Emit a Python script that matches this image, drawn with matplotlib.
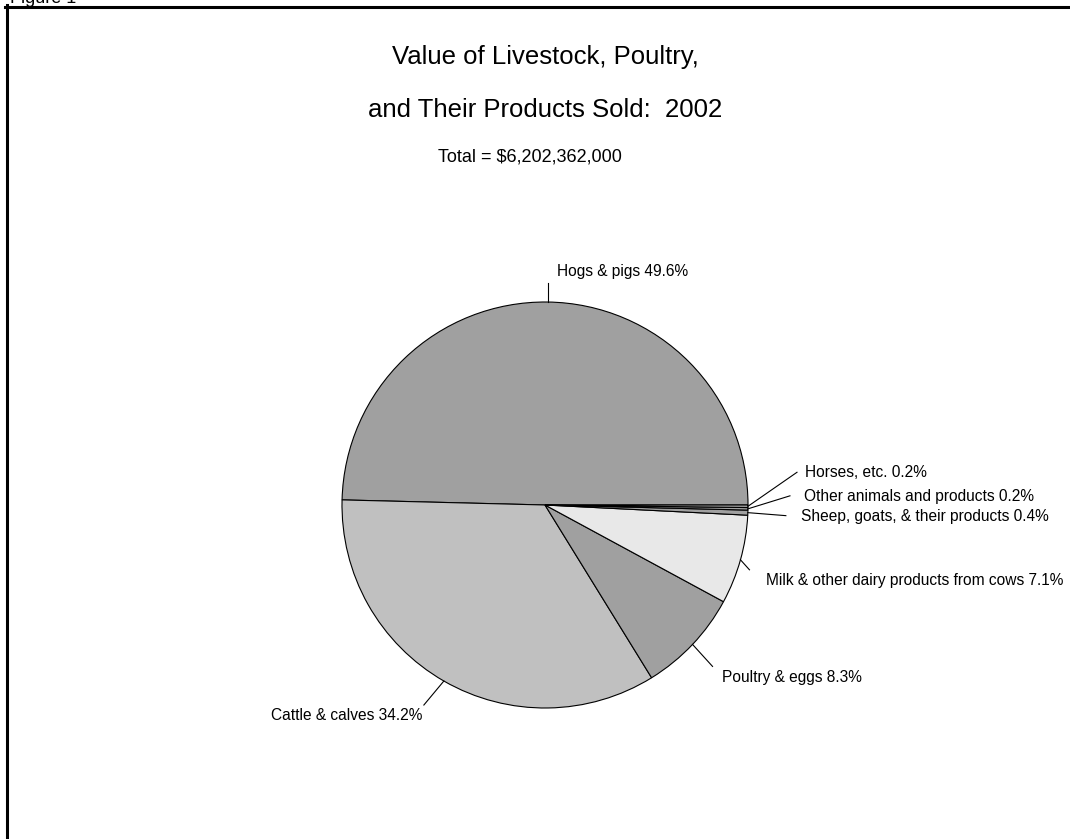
import numpy as np
import matplotlib
matplotlib.use("Agg")
import matplotlib.pyplot as plt
from matplotlib.lines import Line2D

plt.rcParams["font.family"] = ["Liberation Sans", "DejaVu Sans"]

# data (percent of total value sold)
categories = [
    "Hogs & pigs",
    "Cattle & calves",
    "Poultry & eggs",
    "Milk & other dairy products from cows",
    "Sheep, goats, & their products",
    "Other animals and products",
    "Horses, etc.",
]
shares = [49.6, 34.2, 8.3, 7.1, 0.4, 0.2, 0.2]
colors = ["#a0a0a0", "#c0c0c0", "#a0a0a0", "#e8e8e8", "#a0a0a0", "#a0a0a0", "#a0a0a0"]

title_lines = ["Value of Livestock, Poultry,", "and Their Products Sold:  2002"]
subtitle = "Total = $6,202,362,000"

W, H = 1070, 839
fig = plt.figure(figsize=(W / 100, H / 100), dpi=100)
ax = fig.add_axes([0, 0, 1, 1])
ax.axis("off")

cx, cy, r = 545, H - 505, 203
wedges, _ = ax.pie(shares, colors=colors, startangle=0, counterclock=True,
                   center=(cx, cy), radius=r,
                   wedgeprops=dict(edgecolor="black", linewidth=0.8))
ax.set_xlim(0, W)
ax.set_ylim(0, H)
ax.set_aspect("auto")

# leader line offset (dx, dy) and text offset from line end, pixels (y down)
leaders = [
    ((0, -19), (9, -12), "left"),
    ((-20, 24), (-1, 10), "right"),
    ((20, 22), (9, 11), "left"),
    ((9, 10), (17, 11), "left"),
    ((38, 3), (15, 1), "left"),
    ((42, -13), (14, 1), "left"),
    ((49, -34), (8, 0), "left"),
]

for w, name, pct, (ld, td, ha) in zip(wedges, categories, shares, leaders):
    mid = np.deg2rad((w.theta1 + w.theta2) / 2)
    ex, ey = cx + r * np.cos(mid), cy + r * np.sin(mid)
    lx, ly = ex + ld[0], ey - ld[1]
    ax.plot([ex, lx], [ey, ly], color="black", linewidth=0.8)
    ax.text(lx + td[0], ly - td[1], f"{name} {pct}%", ha=ha, va="center",
            fontsize=11.2, color="black")

# titles
fig.text(545 / W, 1 - 57 / H, title_lines[0], ha="center", va="center", fontsize=18.5)
fig.text(545 / W, 1 - 110 / H, title_lines[1], ha="center", va="center", fontsize=18.5)
fig.text(530 / W, 1 - 157 / H, subtitle, ha="center", va="center", fontsize=13)

# partially visible figure label and frame
fig.text(10 / W, 1 - 3 / H, "Figure 1", ha="left", va="baseline", fontsize=13)
fig.add_artist(Line2D([6.5 / W, 6.5 / W], [0, 1 - 5 / H], color="black", linewidth=2.2,
                      transform=fig.transFigure))
fig.add_artist(Line2D([5 / W, 1], [1 - 6.5 / H, 1 - 6.5 / H], color="black", linewidth=2.2,
                      transform=fig.transFigure))

fig.savefig("out.png", dpi=100)
